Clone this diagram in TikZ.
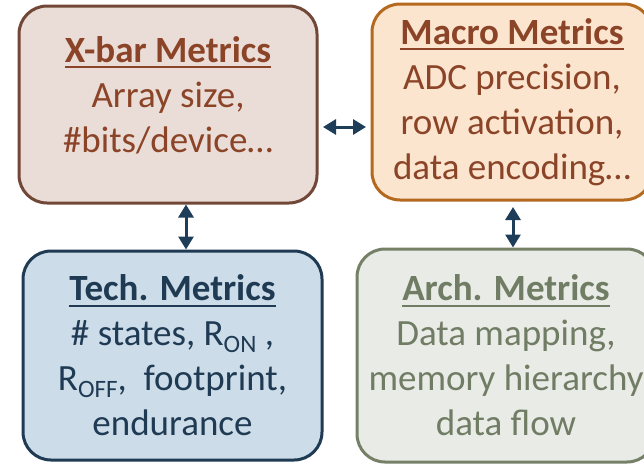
\documentclass[tikz,border=0pt]{standalone}
\usepackage{fontspec}
\setmainfont{Carlito}
\usetikzlibrary{arrows.meta}

\definecolor{xbarfill}{HTML}{EADCD6}
\definecolor{xbarline}{HTML}{714737}
\definecolor{rusttext}{HTML}{8B4427}
\definecolor{macrofill}{HTML}{FBE5CF}
\definecolor{macroline}{HTML}{B4691F}
\definecolor{techfill}{HTML}{CCDCE8}
\definecolor{techline}{HTML}{1F3A53}
\definecolor{archfill}{HTML}{E8EBE6}
\definecolor{archline}{HTML}{758066}
\definecolor{archtext}{HTML}{707C63}
\definecolor{arrowcol}{HTML}{1E3D59}

% underlined title in bold
\newcommand\boxtitle[1]{\setbox0\hbox{\bfseries #1}\rlap{\rule[-6pt]{\wd0}{2pt}}\box0}
% lowered small text for subscripts
\newcommand\lowtxt[1]{\raisebox{-7pt}{\fontsize{25}{25}\selectfont #1}}

\tikzset{
  metric/.style={draw, line width=3pt, rounded corners=28pt, align=center,
    font=\fontsize{37}{45}\selectfont, inner sep=0pt},
  arr/.style={draw=arrowcol, line width=3pt,
    {Triangle[width=15pt,length=13pt]}-{Triangle[width=15pt,length=13pt]}}
}

\begin{document}
\begin{tikzpicture}[x=1pt,y=-1pt]
\useasboundingbox (0,0) rectangle (644,464);

\node[metric, fill=xbarfill, draw=xbarline, text=rusttext,
  minimum width=298pt, minimum height=197pt] (xbar) at (168,104.5)
  {\boxtitle{X-bar Metrics}\\Array size,\\\#bits/device…\rule[-20pt]{0pt}{1pt}};

\node[metric, fill=macrofill, draw=macroline, text=rusttext,
  minimum width=280pt, minimum height=196pt] (macro) at (512,102)
  {\boxtitle{Macro Metrics}\\ADC precision,\\row activation,\\data encoding…};

\node[metric, fill=techfill, draw=techline, text=techline,
  minimum width=299pt, minimum height=209pt] (tech) at (172.5,355.5)
  {\boxtitle{Tech. Metrics}\\\# states, R\lowtxt{ON} ,\\R\lowtxt{OFF},\ \ footprint,\\endurance};

\node[metric, fill=archfill, draw=archline, text=archtext,
  minimum width=298pt, minimum height=213pt] (arch) at (506,355.5)
  {\boxtitle{Arch. Metrics}\\Data mapping,\\memory hierarchy\\data flow};

% links between the metric levels
\draw[arr, shorten <=4.5pt, shorten >=4.5pt] (xbar.east |- 0,127) -- (macro.west |- 0,127);
\draw[arr] (xbar.south -| 186,0) -- (tech.north -| 186,0);
\draw[arr, shorten <=5.5pt] (macro.south -| 513,0) -- (arch.north -| 513,0);
\end{tikzpicture}
\end{document}
